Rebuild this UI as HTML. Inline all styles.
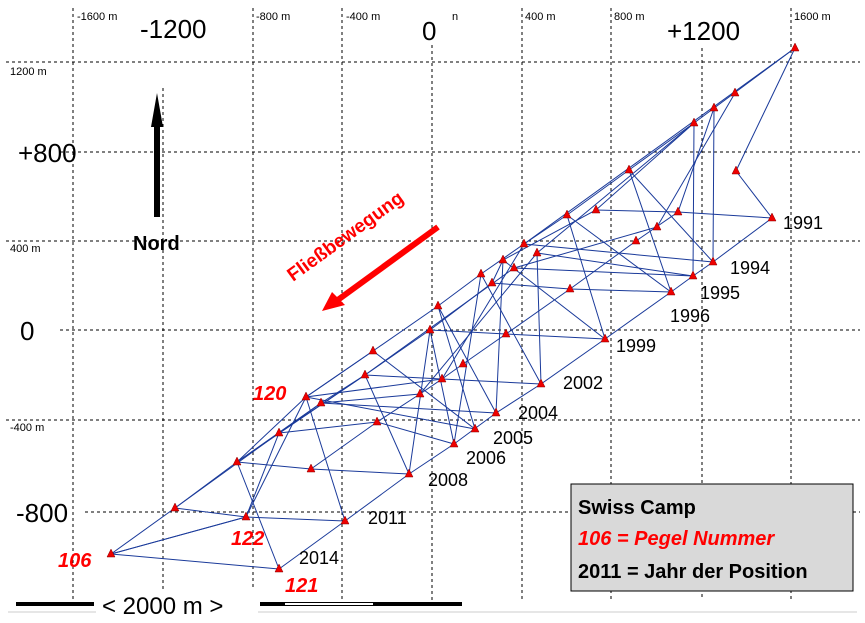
<!DOCTYPE html>
<html><head><meta charset="utf-8"><style>body{margin:0;background:#fff}svg{display:block}</style></head><body>
<svg width="865" height="623" xmlns="http://www.w3.org/2000/svg" font-family="Liberation Sans, sans-serif">
<rect width="865" height="623" fill="#fff"/>
<g stroke="#000" stroke-width="1" stroke-dasharray="3,3">
<line x1="73" y1="8" x2="73" y2="600"/><line x1="163" y1="88" x2="163" y2="600"/><line x1="253" y1="8" x2="253" y2="600"/>
<line x1="342" y1="8" x2="342" y2="600"/><line x1="432" y1="45" x2="432" y2="600"/><line x1="522" y1="8" x2="522" y2="600"/>
<line x1="611" y1="8" x2="611" y2="600"/><line x1="702" y1="48" x2="702" y2="600"/><line x1="791" y1="8" x2="791" y2="600"/>
<line x1="6" y1="62" x2="860" y2="62"/><line x1="60" y1="152" x2="860" y2="152"/><line x1="6" y1="241" x2="860" y2="241"/>
<line x1="60" y1="330" x2="860" y2="330"/><line x1="6" y1="420" x2="860" y2="420"/><line x1="85" y1="512" x2="860" y2="512"/>
</g>
<g font-size="11" fill="#000">
<text x="77" y="20">-1600 m</text><text x="256" y="20">-800 m</text><text x="346" y="20">-400 m</text><text x="452" y="20">n</text>
<text x="525" y="20">400 m</text><text x="614" y="20">800 m</text><text x="794" y="20">1600 m</text>
<text x="10" y="75">1200 m</text><text x="10" y="252">400 m</text><text x="10" y="431">-400 m</text>
</g>
<g font-size="26" fill="#000">
<text x="140" y="38">-1200</text><text x="422" y="40">0</text><text x="667" y="40">+1200</text>
<text x="18" y="162">+800</text><text x="20" y="340">0</text><text x="16" y="522">-800</text>
</g>
<polygon points="157,93 163,127 160,127 160,217 154,217 154,127 151,127" fill="#000"/>
<text x="133" y="250" font-size="20" font-weight="bold">Nord</text>
<line x1="438" y1="227" x2="335" y2="302" stroke="#f00" stroke-width="6"/>
<polygon points="322,311 332,292 345,305" fill="#f00"/>
<text x="0" y="0" font-size="19" font-weight="bold" fill="#f00" transform="translate(293,282) rotate(-36)">Fließbewegung</text>
<g stroke="#1a3a9a" stroke-width="1" fill="none">
<polyline points="111,554 175,508 237,462 306,397 373,351 438,306 481,274 524,244 567,215 629,170 694,123 795,48"/>
<polyline points="246,517 279,433 321,403 365,375 430,330 492,283 503,260 596,210 694,123"/>
<polyline points="279,569 345,521 409,474 454,444 496,413 541,384 605,339 671,292 693,276 713,262 772,218 736,171 795,48"/>
<polyline points="311,469 377,422 420,394 442,379 463,364 506,334 570,289 636,241 678,212 714,108"/>
<polyline points="175,508 279,433 365,375 514,268 657,227 735,93"/>
<polyline points="237,462 321,403 420,394 537,253 694,123"/>
<polyline points="111,554 246,517 306,397 442,379 524,244 795,48"/>
<line x1="111" y1="554" x2="279" y2="569"/><line x1="111" y1="554" x2="246" y2="517"/>
<polyline points="175,508 246,517 345,521"/><polyline points="237,462 311,469 409,474"/>
<polyline points="279,433 377,422 454,444"/><polyline points="306,397 475,429"/>
<polyline points="321,403 496,413"/><polyline points="365,375 442,379 541,384"/>
<polyline points="430,330 506,334 605,339"/><polyline points="492,283 570,289 671,292"/>
<polyline points="514,268 693,276"/><polyline points="524,244 713,262"/>
<polyline points="596,210 678,212 772,218"/>
<polyline points="345,521 306,397 373,351 475,429 438,306 496,413 503,260 605,339 567,215 671,292 629,170 713,262 714,108"/>
<polyline points="279,569 237,462 365,375 409,474 430,330 454,444 481,274 541,384 537,253 693,276 694,123"/>
</g>
<g fill="#e00" stroke="#800" stroke-width="0.5">
<path d="M795,43l4,8h-8z M735,88l4,8h-8z M714,103l4,8h-8z M694,118l4,8h-8z M736,166l4,8h-8z M629,165l4,8h-8z M772,213l4,8h-8z M678,207l4,8h-8z M596,205l4,8h-8z M567,210l4,8h-8z M657,222l4,8h-8z M524,239l4,8h-8z M503,255l4,8h-8z M537,248l4,8h-8z M713,257l4,8h-8z M636,236l4,8h-8z M693,271l4,8h-8z M481,269l4,8h-8z M492,278l4,8h-8z M671,287l4,8h-8z M570,284l4,8h-8z M514,263l4,8h-8z M438,301l4,8h-8z M430,325l4,8h-8z M506,329l4,8h-8z M605,334l4,8h-8z M373,346l4,8h-8z M365,370l4,8h-8z M463,359l4,8h-8z M442,374l4,8h-8z M541,379l4,8h-8z M420,389l4,8h-8z M321,398l4,8h-8z M306,392l4,8h-8z M496,408l4,8h-8z M377,417l4,8h-8z M475,424l4,8h-8z M279,428l4,8h-8z M454,439l4,8h-8z M237,457l4,8h-8z M311,464l4,8h-8z M409,469l4,8h-8z M175,503l4,8h-8z M246,512l4,8h-8z M345,516l4,8h-8z M111,549l4,8h-8z M279,564l4,8h-8z"/>
</g>
<g font-size="18" fill="#000">
<text x="783" y="229">1991</text><text x="730" y="274">1994</text><text x="700" y="299">1995</text><text x="670" y="322">1996</text>
<text x="616" y="352">1999</text><text x="563" y="389">2002</text><text x="518" y="419">2004</text><text x="493" y="444">2005</text>
<text x="466" y="464">2006</text><text x="428" y="486">2008</text><text x="368" y="524">2011</text><text x="299" y="564">2014</text>
</g>
<g font-size="20" font-weight="bold" font-style="italic" fill="#f00">
<text x="253" y="400">120</text><text x="231" y="545">122</text><text x="58" y="567">106</text><text x="285" y="592">121</text>
</g>
<rect x="571" y="484" width="282" height="107" fill="#d9d9d9" stroke="#000" stroke-width="1"/>
<text x="578" y="514" font-size="20" font-weight="bold">Swiss Camp</text>
<text x="578" y="545" font-size="20" font-weight="bold" font-style="italic" fill="#f00">106  = Pegel Nummer</text>
<text x="578" y="578" font-size="20" font-weight="bold">2011 = Jahr der Position</text>
<line x1="8" y1="612" x2="857" y2="612" stroke="#ccc" stroke-width="1"/>
<rect x="16" y="602" width="78" height="4" fill="#000"/>
<rect x="260" y="602" width="202" height="4" fill="#000"/>
<rect x="285" y="603" width="88" height="2" fill="#fff"/>
<rect x="96" y="590" width="162" height="33" fill="#fff"/>
<text x="102" y="614" font-size="24">&lt; 2000 m &gt;</text>
</svg>
</body></html>
